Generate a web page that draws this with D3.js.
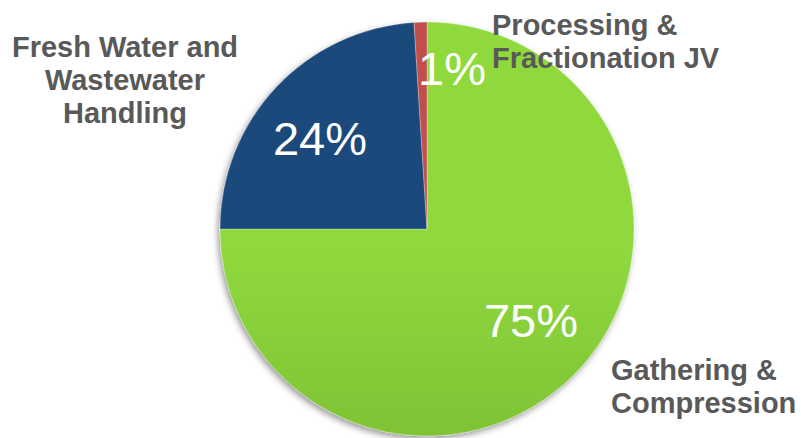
<!DOCTYPE html>
<html>
<head>
<meta charset="utf-8">
<script src="https://cdn.jsdelivr.net/npm/d3@7"></script>
<style>
  html, body { margin: 0; padding: 0; background: #ffffff; }
  svg { display: block; }
</style>
</head>
<body>
<svg id="chart" width="801" height="438"></svg>
<script>
// Segment shares (percent), in clockwise order from 12 o'clock
const segments = ["Gathering & Compression", "Fresh Water and Wastewater Handling", "Processing & Fractionation JV"];
const shares = [75, 24, 1];
const shareLabels = ["75%", "24%", "1%"];
const fills = ["url(#greenGrad)", "#1f497c", "#c0504d"];

// Category captions, one entry per text line
const captionLines = [
  ["Gathering &", "Compression"],
  ["Fresh Water and", "Wastewater", "Handling"],
  ["Processing &", "Fractionation JV"]
];

const W = 801, H = 438;
const cx = 427, cy = 229, R = 207;

const svg = d3.select("#chart");
const defs = svg.append("defs");

const g1 = defs.append("linearGradient")
  .attr("id", "greenGrad")
  .attr("gradientUnits", "userSpaceOnUse")
  .attr("x1", 0).attr("y1", cy - R).attr("x2", 0).attr("y2", cy + R);
g1.append("stop").attr("offset", "0%").attr("stop-color", "#8fd93e");
g1.append("stop").attr("offset", "100%").attr("stop-color", "#6ba82a");

const shadow = defs.append("filter").attr("id", "pieShadow")
  .attr("x", "-20%").attr("y", "-20%").attr("width", "140%").attr("height", "140%");
shadow.append("feDropShadow")
  .attr("dx", -2).attr("dy", 3).attr("stdDeviation", 3)
  .attr("flood-color", "#000").attr("flood-opacity", 0.4);

const data = segments.map((name, i) => ({ name, value: shares[i], label: shareLabels[i], fill: fills[i], lines: captionLines[i] }));

const pie = d3.pie().value(d => d.value).sort(null);
const arc = d3.arc().innerRadius(0).outerRadius(R);
const arcs = pie(data);

const pieG = svg.append("g")
  .attr("transform", `translate(${cx},${cy})`)
  .attr("filter", "url(#pieShadow)");

pieG.selectAll("path.slice")
  .data(arcs)
  .join("path")
  .attr("class", "slice")
  .attr("d", arc)
  .attr("fill", d => d.data.fill)
  .attr("stroke", "rgba(255,255,255,0.35)")
  .attr("stroke-width", 0.8);

// Percentage labels inside / near slices
const pctPos = [
  { x: 531, y: 337 },
  { x: 320, y: 155 },
  { x: 452, y: 85 }
];
svg.append("g").selectAll("text.pct")
  .data(arcs)
  .join("text")
  .attr("class", "pct")
  .attr("x", (d, i) => pctPos[i].x)
  .attr("y", (d, i) => pctPos[i].y)
  .attr("text-anchor", "middle")
  .attr("font-family", "Liberation Sans, Arial, sans-serif")
  .attr("font-size", 47)
  .attr("fill", "#ffffff")
  .text(d => d.data.label);

// Category captions
const capPos = [
  { x: 611, y: 380, anchor: "start" },
  { x: 125, y: 57, anchor: "middle" },
  { x: 492, y: 35, anchor: "start" }
];
const lineStep = 33;
data.forEach((d, i) => {
  const t = svg.append("text")
    .attr("x", capPos[i].x)
    .attr("y", capPos[i].y)
    .attr("text-anchor", capPos[i].anchor)
    .attr("font-family", "Liberation Sans, Arial, sans-serif")
    .attr("font-weight", "bold")
    .attr("font-size", 29)
    .attr("fill", "#595959");
  d.lines.forEach((ln, j) => {
    t.append("tspan")
      .attr("x", capPos[i].x)
      .attr("y", capPos[i].y + j * lineStep)
      .text(ln);
  });
});
</script>
</body>
</html>
